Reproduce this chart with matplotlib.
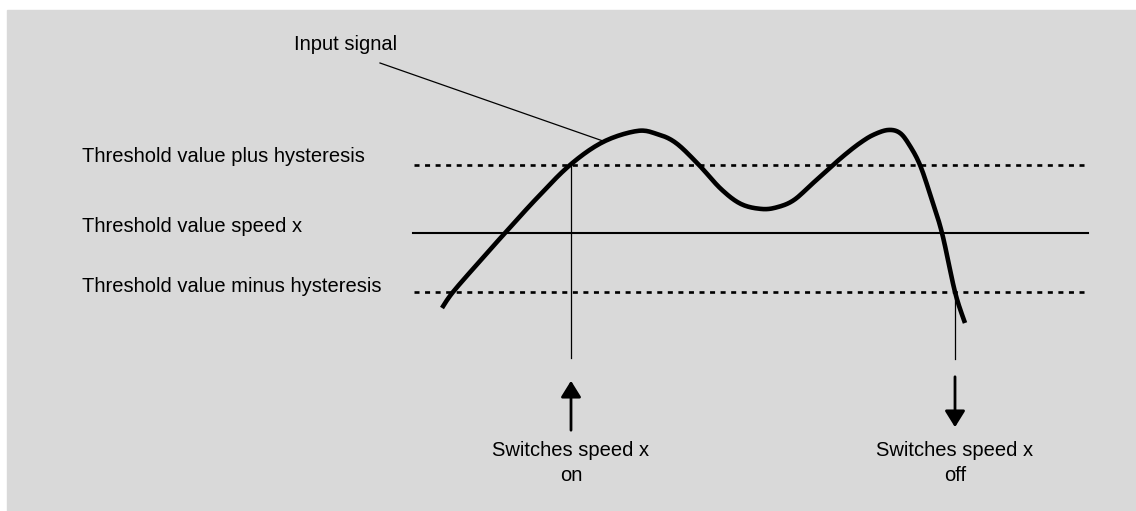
import numpy as np
import matplotlib
matplotlib.use("Agg")
import matplotlib.pyplot as plt

# everything in picture pixel coordinates (x right, y down)
level_names = ["Threshold value plus hysteresis", "Threshold value speed x", "Threshold value minus hysteresis"]
level_y = [165, 233, 292]
level_style = ["dotted", "solid", "dotted"]
label_y = [157, 226, 287]

signal_x = [442, 453, 480, 505, 537, 570, 603, 637, 657, 676, 699, 721, 741, 762, 778, 794, 812, 833, 847, 860, 873, 888, 900, 910, 920, 930, 942, 955, 965]
signal_y = [308, 292, 261, 233, 198, 165, 142, 131, 134, 143, 165, 189, 204, 209, 207, 200, 184, 165, 153, 143, 135, 130, 133, 146, 165, 194, 233, 292, 323]

switch_x = [571, 955]
switch_line_y = [(165, 358), (292, 359)]
arrow_from = [433, 374]
arrow_to = [378, 430]
switch_text = ["Switches speed x\non", "Switches speed x\noff"]


def smooth(xs, ys, n=12):
    # Catmull-Rom through the read points
    p = np.column_stack([xs, ys]).astype(float)
    p = np.vstack([p[0], p, p[-1]])
    out = []
    t = np.linspace(0, 1, n, endpoint=False)[:, None]
    for i in range(1, len(p) - 2):
        p0, p1, p2, p3 = p[i - 1], p[i], p[i + 1], p[i + 2]
        out.append(0.5 * ((2 * p1) + (-p0 + p2) * t + (2 * p0 - 5 * p1 + 4 * p2 - p3) * t ** 2
                          + (-p0 + 3 * p1 - 3 * p2 + p3) * t ** 3))
    out.append(p[-2][None, :])
    out = np.vstack(out)
    return out[:, 0], out[:, 1]


plt.rcParams['font.family'] = ['Liberation Sans', 'DejaVu Sans']
fs = 14.5
fig = plt.figure(figsize=(11.36, 5.11), dpi=100)
fig.patch.set_facecolor("white")
ax = fig.add_axes([0, 0, 1, 1])
ax.set_xlim(0, 1136)
ax.set_ylim(511, 0)
ax.axis("off")
ax.add_patch(plt.Rectangle((7, 10), 1136, 511, color="#d9d9d9", zorder=0))

for name, y, ls, ly in zip(level_names, level_y, level_style, label_y):
    if ls == "dotted":
        ax.plot([414, 1088], [y, y], color="black", lw=1.9, linestyle=(0, (1.9, 2.1)))
    else:
        ax.plot([413, 1088], [y, y], color="black", lw=1.5)
    ax.text(82, ly, name, fontsize=fs, va="center", ha="left")

sx, sy = smooth(signal_x, signal_y)
ax.plot(sx, sy, color="black", lw=3.3, solid_capstyle="butt")

# label of the signal
ax.text(294, 44, "Input signal", fontsize=fs, va="center", ha="left")
ax.plot([380, 603], [63, 141], color="black", lw=0.9)

for x, (y0, y1), a0, a1, txt in zip(switch_x, switch_line_y, arrow_from, arrow_to, switch_text):
    ax.plot([x, x], [y0, y1], color="black", lw=0.9)
    ax.annotate("", xy=(x, a1), xytext=(x, a0),
                arrowprops=dict(arrowstyle="-|>,head_length=0.45,head_width=0.28",
                                color="black", lw=2, mutation_scale=22))
    ax.text(x, 463, txt, fontsize=fs, ha="center", va="center", linespacing=1.35)

fig.savefig("out.png", dpi=100)
